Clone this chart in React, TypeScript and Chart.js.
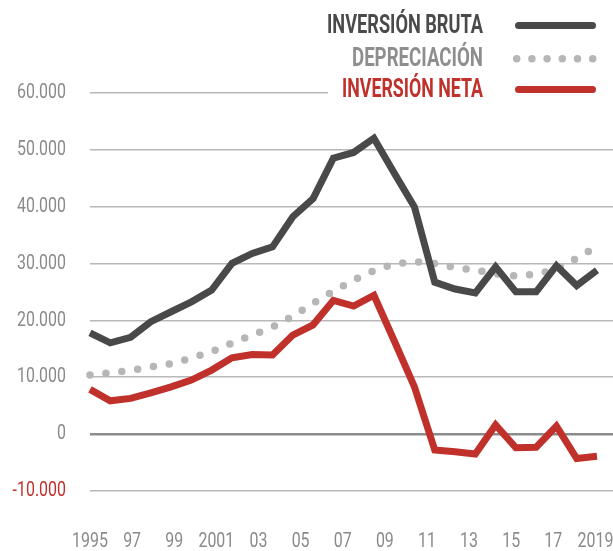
import React, { useEffect, useRef } from "react";
import { Chart, registerables } from "chart.js";

Chart.register(...registerables);

const years = [1995, 1996, 1997, 1998, 1999, 2000, 2001, 2002, 2003, 2004, 2005, 2006, 2007, 2008, 2009, 2010, 2011, 2012, 2013, 2014, 2015, 2016, 2017, 2018, 2019, 2020];
const inversionBruta = [17800, 16050, 17000, 19750, 21500, 23250, 25300, 30000, 31750, 32900, 38200, 41400, 48500, 49500, 52000, 45900, 39900, 26700, 25500, 24800, 29400, 25000, 25000, 29600, 26100, 28800];
const depreciacion = [10400, 10750, 11200, 11800, 12350, 13350, 14500, 16000, 17400, 18800, 20700, 23000, 25100, 27100, 28700, 29900, 30300, 30000, 29300, 28800, 28200, 27800, 28100, 29000, 30900, 33000];
const inversionNeta = [7860, 5850, 6270, 7260, 8300, 9500, 11250, 13400, 14000, 13900, 17400, 19200, 23500, 22500, 24400, 16400, 8300, -2800, -3100, -3500, 1600, -2400, -2300, 1400, -4300, -3900];

const tickYears = [1995, 1997, 1999, 2001, 2003, 2005, 2007, 2009, 2011, 2013, 2015, 2017, 2019];
const tickLabels = ["1995", "97", "99", "2001", "03", "05", "07", "09", "11", "13", "15", "17", "2019"];

const seriesNames = ["INVERSIÓN BRUTA", "DEPRECIACIÓN", "INVERSIÓN NETA"];

const DARK = "#494949";
const GREY = "#b6b6b6";
const RED = "#c0312c";
const FONT = "Roboto, 'Noto Sans', sans-serif";

const fmt = (v: number) => {
  const s = Math.abs(v).toString().replace(/\B(?=(\d{3})+(?!\d))/g, ".");
  return (v < 0 ? "-" : "") + s;
};

// horizontally condensed text, to imitate the reference's narrow typeface
const condensePlugin = {
  id: "condense",
  beforeDraw(chart: any) {
    const ctx = chart.ctx;
    if (ctx.__origFillText) return;
    const orig = ctx.fillText.bind(ctx);
    ctx.__origFillText = orig;
    const saveFont = ctx.font;
    ctx.font = "21px " + FONT;
    const sx = 49 / ctx.measureText("60.000").width;
    ctx.font = saveFont;
    ctx.fillText = (t: string, x: number, y: number) => {
      ctx.save();
      ctx.translate(x, y);
      ctx.scale(sx, 1);
      orig(t, 0, 0);
      ctx.restore();
    };
  },
};

const legendPlugin = {
  id: "customLegend",
  afterDraw(chart: any) {
    const ctx = chart.ctx;
    const orig = ctx.__origFillText || ctx.fillText.bind(ctx);
    ctx.save();
    ctx.fillStyle = "#ffffff";
    ctx.fillRect(328, 0, 613 - 328, 106);
    const rows = [
      { name: seriesNames[0], color: DARK, text: "#4a4a4a", y: 25.5, w: 156, dots: false },
      { name: seriesNames[1], color: GREY, text: "#8e8e8e", y: 58.8, w: 131, dots: true },
      { name: seriesNames[2], color: RED, text: RED, y: 89.5, w: 141, dots: false },
    ];
    ctx.textAlign = "right";
    ctx.textBaseline = "middle";
    ctx.font = "bold 26px " + FONT;
    for (const r of rows) {
      ctx.fillStyle = r.text;
      const mw = ctx.measureText(r.name).width;
      ctx.save();
      ctx.translate(483, r.y + 1);
      ctx.scale(r.w / mw, 1);
      orig(r.name, 0, 0);
      ctx.restore();
      ctx.beginPath();
      ctx.strokeStyle = r.color;
      ctx.lineWidth = r.dots ? 7.5 : 7;
      ctx.lineCap = "round";
      if (r.dots) {
        ctx.setLineDash([0, 15.2]);
        ctx.moveTo(516.7, r.y);
        ctx.lineTo(593.5, r.y);
      } else {
        ctx.setLineDash([]);
        ctx.moveTo(518.5, r.y);
        ctx.lineTo(592.5, r.y);
      }
      ctx.stroke();
    }
    ctx.restore();
  },
};

export default function App() {
  const ref = useRef<HTMLCanvasElement | null>(null);
  useEffect(() => {
    document.body.style.margin = "0";
    const canvas = ref.current;
    if (!canvas) return;
    const mk = (vals: number[]) => vals.map((v, i) => ({ x: years[i], y: v }));
    const chart = new Chart(canvas, {
      type: "line",
      data: {
        datasets: [
          {
            label: seriesNames[0],
            data: mk(inversionBruta),
            borderColor: DARK,
            borderWidth: 7,
            pointRadius: 0,
            tension: 0,
            order: 1,
            clip: false,
            xAxisID: "x",
          },
          {
            label: seriesNames[2],
            data: mk(inversionNeta),
            borderColor: RED,
            borderWidth: 7,
            pointRadius: 0,
            tension: 0,
            order: 2,
            clip: false,
            xAxisID: "x",
          },
          {
            label: seriesNames[1],
            data: mk(depreciacion),
            borderColor: GREY,
            borderWidth: 7.5,
            borderDash: [0, 16],
            borderCapStyle: "round",
            pointRadius: 0,
            tension: 0,
            order: 3,
            clip: false,
            xAxisID: "x",
          },
        ],
      } as any,
      options: {
        animation: false,
        responsive: false,
        devicePixelRatio: 1,
        layout: { padding: { top: 92.7, left: 0, right: 0, bottom: 0 } },
        plugins: { legend: { display: false }, tooltip: { enabled: false } },
        scales: {
          x: {
            type: "linear",
            display: false,
            min: 1995,
            max: 1995 + 523 / 20.28,
          },
          xt: {
            type: "linear",
            position: "bottom",
            min: 1995,
            max: 1995 + 523 / 21.06,
            afterBuildTicks: (scale: any) => {
              scale.ticks = tickYears.map((v) => ({ value: v }));
            },
            afterFit: (scale: any) => {
              scale.height = 60;
              scale.paddingLeft = 0;
              scale.paddingRight = 0;
            },
            grid: { display: false },
            border: { display: false },
            ticks: {
              autoSkip: false,
              maxRotation: 0,
              padding: 30,
              color: "#8a8a8a",
              font: { family: FONT, size: 21 },
              callback: (_v: any, i: number) => tickLabels[i],
            },
          },
          y: {
            min: -10000,
            max: 60000,
            afterFit: (scale: any) => {
              scale.width = 90;
              scale.paddingTop = 0;
              scale.paddingBottom = 0;
            },
            border: { display: false },
            grid: {
              drawTicks: false,
              color: (c: any) => (c.tick && c.tick.value === 0 ? "#8c8c8c" : "#b8b8b8"),
              lineWidth: (c: any) => (c.tick && c.tick.value === 0 ? 2.5 : 1.5),
            },
            ticks: {
              stepSize: 10000,
              padding: 24,
              color: (c: any) => (c.tick && c.tick.value < 0 ? RED : "#8a8a8a"),
              font: { family: FONT, size: 21 },
              callback: (v: any) => fmt(Number(v)),
            },
          },
        },
      } as any,
      plugins: [condensePlugin, legendPlugin],
    });
    return () => chart.destroy();
  }, []);
  return (
    <div style={{ width: 613, height: 551 }}>
      <canvas ref={ref} width={613} height={551} style={{ display: "block" }} />
    </div>
  );
}
